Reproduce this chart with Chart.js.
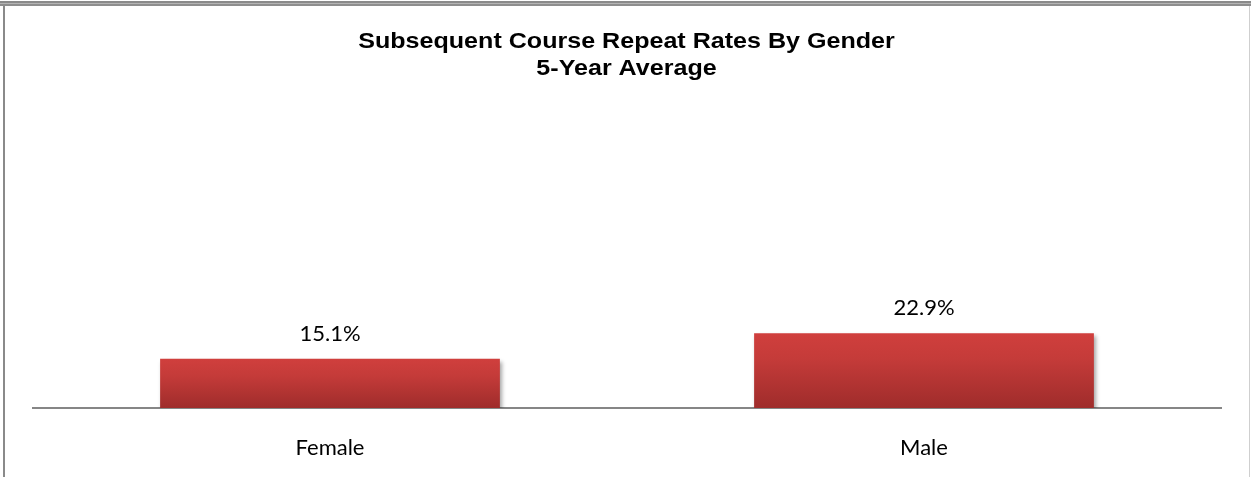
<!DOCTYPE html>
<html>
<head>
<meta charset="utf-8">
<script src="https://cdn.jsdelivr.net/npm/chart.js@4"></script>
<style>
  body { margin: 0; background: #fff; }
  #wrap { position: relative; width: 1251px; height: 477px; overflow: hidden; }
  #wrap canvas { position: absolute; left: 0; top: 0; }
  .frameTop { position: absolute; left: 0; top: 1px; width: 1251px; height: 2px; background: #8a8a8a; }
  .frameTop2 { position: absolute; left: 0; top: 3px; width: 1251px; height: 1px; background: #b4b4b4; }
  .frameTop3 { position: absolute; left: 0; top: 4px; width: 1251px; height: 2px; background: #8e8e8e; }
  .frameLeft { position: absolute; left: 3px; top: 6px; width: 2px; height: 471px; background: #8a8a8a; }
  .frameRight { position: absolute; left: 1249px; top: 6px; width: 1px; height: 471px; background: #cfcfcf; }
</style>
</head>
<body>
<div id="wrap">
  <canvas id="genderChart" width="1251" height="477"></canvas>
  <div class="frameTop"></div>
  <div class="frameTop2"></div>
  <div class="frameTop3"></div>
  <div class="frameLeft"></div>
  <div class="frameRight"></div>
</div>
<script>

const titleLines = ["Subsequent Course Repeat Rates By Gender", "5-Year Average"];
const categories = ["Female", "Male"];
const repeatRates = [15.1, 22.9];

// title drawn by hand so it can be stretched a little wider, like the original
const wideTitle = {
    id: "wideTitle",
    afterDraw(chart) {
        const ctx = chart.ctx;
        ctx.save();
        ctx.font = "bold 22px 'Liberation Sans', Arial";
        ctx.fillStyle = "#000";
        ctx.textAlign = "center";
        ctx.textBaseline = "alphabetic";
        titleLines.forEach((line, i) => {
            ctx.save();
            ctx.translate(chart.width / 2 + 1, 48 + i * 27);
            ctx.scale(1.14, 1);
            ctx.fillText(line, 0, 0);
            ctx.restore();
        });
        ctx.restore();
    }
};

// value labels above each bar
const valueLabels = {
    id: "valueLabels",
    afterDatasetsDraw(chart) {
        const ctx = chart.ctx;
        const meta = chart.getDatasetMeta(0);
        ctx.save();
        ctx.font = "22px Lato";
        ctx.fillStyle = "#000";
        ctx.textAlign = "center";
        ctx.textBaseline = "alphabetic";
        meta.data.forEach((bar, i) => {
            ctx.fillText(repeatRates[i].toFixed(1) + "%", bar.x, bar.y - 18);
        });
        ctx.restore();
    }
};

// soft drop shadow under the bars
const barShadow = {
    id: "barShadow",
    beforeDatasetDraw(chart) {
        const ctx = chart.ctx;
        ctx.save();
        ctx.shadowColor = "rgba(0,0,0,0.35)";
        ctx.shadowBlur = 4;
        ctx.shadowOffsetX = 2;
        ctx.shadowOffsetY = 3;
    },
    afterDatasetDraw(chart) {
        chart.ctx.restore();
    }
};

function barGradient(context) {
    const chart = context.chart;
    if (!chart.chartArea) return "#c03a38";
    const y = chart.scales.y;
    const top = y.getPixelForValue(context.raw);
    const bottom = y.getPixelForValue(0);
    const g = chart.ctx.createLinearGradient(0, top, 0, bottom);
    g.addColorStop(0, "#d03f3d");
    g.addColorStop(0.35, "#c43b39");
    g.addColorStop(1, "#9f2c2b");
    return g;
}

new Chart(document.getElementById("genderChart"), {
    type: "bar",
    data: {
        labels: categories,
        datasets: [{
            data: repeatRates,
            backgroundColor: barGradient,
            borderWidth: 0,
            categoryPercentage: 1,
            barPercentage: 0.572
        }]
    },
    options: {
        responsive: false,
        animation: false,
        layout: {
            padding: { left: 33, right: 30, top: 82, bottom: 0 }
        },
        plugins: {
            legend: { display: false },
            tooltip: { enabled: false },
            title: { display: false }
        },
        scales: {
            y: {
                display: false,
                min: 0,
                max: 100
            },
            x: {
                grid: { display: false, drawTicks: false },
                border: { display: true, color: "#868686", width: 2 },
                ticks: {
                    color: "#000",
                    padding: 27,
                    font: { family: "Lato", size: 22 }
                },
                afterFit(scale) {
                    scale.height = 69;
                }
            }
        }
    },
    plugins: [barShadow, valueLabels, wideTitle]
});

</script>
</body>
</html>
